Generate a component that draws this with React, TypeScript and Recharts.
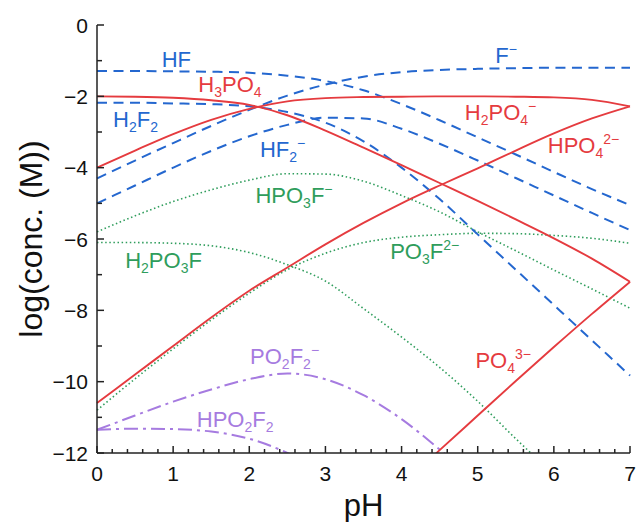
import React from 'react';
import { LineChart, Line, XAxis, YAxis, ReferenceDot } from 'recharts';

const FONT = '"Liberation Sans", Arial, Helvetica, sans-serif';
const AXIS = '#222';
const RED = '#e53b3f';
const BLUE = '#2467cf';
const GREEN = '#2f9d5c';
const PURPLE = '#a67be0';

// pH grid the curves were read at
const pH = [0, 0.5, 1, 1.5, 2, 2.5, 3, 3.5, 4, 4.5, 5, 5.5, 6, 6.5, 7];

// fluoride species, log(conc. / M)
const HF = [-1.29, -1.29, -1.3, -1.31, -1.34, -1.42, -1.57, -1.83, -2.22, -2.67, -3.15, -3.63, -4.12, -4.6, -5.05];
const F = [-4.3, -3.8, -3.31, -2.83, -2.38, -1.98, -1.67, -1.45, -1.32, -1.26, -1.23, -1.21, -1.2, -1.2, -1.2];
const H2F2 = [-2.18, -2.18, -2.2, -2.22, -2.28, -2.44, -2.74, -3.26, -4.0, -4.88, -5.87, -6.86, -7.85, -8.84, -9.83];
const HF2 = [-5.0, -4.5, -4.0, -3.53, -3.12, -2.8, -2.6, -2.62, -2.91, -3.33, -3.8, -4.29, -4.78, -5.27, -5.75];

// phosphate species
const H3PO4 = [-2.0, -2.01, -2.04, -2.11, -2.24, -2.53, -2.96, -3.44, -3.93, -4.43, -4.93, -5.45, -5.98, -6.55, -7.2];
const H2PO4 = [-4.0, -3.52, -3.06, -2.66, -2.35, -2.14, -2.05, -2.02, -2.01, -2.0, -2.0, -2.01, -2.03, -2.1, -2.28];
const HPO4 = [-10.6, -9.8, -9.0, -8.2, -7.45, -6.8, -6.15, -5.55, -5.0, -4.5, -4.02, -3.52, -3.04, -2.62, -2.28];
const PO4 = [null, null, null, null, null, null, null, null, -12.9, -11.92, -10.95, -9.98, -9.03, -8.1, -7.2];

// fluorophosphates
const H2PO3F = [-6.1, -6.1, -6.12, -6.19, -6.38, -6.72, -7.18, -7.95, -8.75, -9.6, -10.55, -11.6, -12.6, null, null];
const HPO3F = [-5.8, -5.35, -4.95, -4.62, -4.35, -4.17, -4.18, -4.38, -4.78, -5.24, -5.8, -6.33, -6.87, -7.4, -7.94];
const PO3F = [-10.8, -9.92, -9.08, -8.27, -7.52, -6.86, -6.4, -6.1, -5.95, -5.88, -5.84, -5.85, -5.9, -5.98, -6.12];
const PO2F2 = [-11.35, -10.95, -10.56, -10.22, -9.93, -9.77, -9.93, -10.38, -11.05, -11.9, -12.8, null, null, null, null];
const HPO2F2 = [-11.35, -11.32, -11.33, -11.4, -11.6, -12.0, -12.6, null, null, null, null, null, null, null, null];

const xTicks = [0, 0.2, 0.4, 0.6, 0.8, 1, 1.2, 1.4, 1.6, 1.8, 2, 2.2, 2.4, 2.6, 2.8, 3, 3.2, 3.4, 3.6, 3.8,
  4, 4.2, 4.4, 4.6, 4.8, 5, 5.2, 5.4, 5.6, 5.8, 6, 6.2, 6.4, 6.6, 6.8, 7];
const yTicks = [-12, -11, -10, -9, -8, -7, -6, -5, -4, -3, -2, -1, 0];

const rows = pH.map((p, i) => ({
  pH: p,
  HF: HF[i], F: F[i], H2F2: H2F2[i], HF2: HF2[i],
  H3PO4: H3PO4[i], H2PO4: H2PO4[i], HPO4: HPO4[i], PO4: PO4[i],
  H2PO3F: H2PO3F[i], HPO3F: HPO3F[i], PO3F: PO3F[i],
  PO2F2: PO2F2[i], HPO2F2: HPO2F2[i],
}));

const DASH = '10 6.5';
const DOT = '1.5 2.6';
const DASHDOT = '14 5 3 5';

const series = [
  { key: 'PO2F2', color: PURPLE, dash: DASHDOT, width: 2 },
  { key: 'HPO2F2', color: PURPLE, dash: DASHDOT, width: 2 },
  { key: 'H2PO3F', color: GREEN, dash: DOT, width: 1.6 },
  { key: 'HPO3F', color: GREEN, dash: DOT, width: 1.6 },
  { key: 'PO3F', color: GREEN, dash: DOT, width: 1.6 },
  { key: 'HF', color: BLUE, dash: DASH, width: 2 },
  { key: 'F', color: BLUE, dash: DASH, width: 2 },
  { key: 'H2F2', color: BLUE, dash: DASH, width: 2 },
  { key: 'HF2', color: BLUE, dash: DASH, width: 2 },
  { key: 'H3PO4', color: RED, dash: undefined, width: 1.9 },
  { key: 'H2PO4', color: RED, dash: undefined, width: 1.9 },
  { key: 'HPO4', color: RED, dash: undefined, width: 1.9 },
  { key: 'PO4', color: RED, dash: undefined, width: 1.9 },
];

// species names: _x = subscript char, ^... = superscript to the end
const labels = [
  { text: 'HF', x: 0.85, y: -1.18, color: BLUE },
  { text: 'F^−', x: 5.23, y: -1.07, color: BLUE },
  { text: 'H_3PO_4', x: 1.33, y: -1.88, color: RED },
  { text: 'H_2F_2', x: 0.21, y: -2.86, color: BLUE },
  { text: 'HF_2^−', x: 2.14, y: -3.7, color: BLUE },
  { text: 'H_2PO_4^−', x: 4.83, y: -2.66, color: RED },
  { text: 'HPO_4^2−', x: 5.92, y: -3.59, color: RED },
  { text: 'HPO_3F^−', x: 2.08, y: -4.99, color: GREEN },
  { text: 'H_2PO_3F', x: 0.37, y: -6.81, color: GREEN },
  { text: 'PO_3F^2−', x: 3.85, y: -6.56, color: GREEN },
  { text: 'PO_2F_2^−', x: 2.01, y: -9.5, color: PURPLE },
  { text: 'HPO_2F_2', x: 1.31, y: -11.27, color: PURPLE },
  { text: 'PO_4^3−', x: 4.97, y: -9.62, color: RED },
];

function parseName(s: string) {
  const parts: { t: string; m: 'n' | 'b' | 'p' }[] = [];
  let i = 0;
  while (i < s.length) {
    const c = s[i];
    if (c === '_') { parts.push({ t: s[i + 1], m: 'b' }); i += 2; }
    else if (c === '^') { parts.push({ t: s.slice(i + 1), m: 'p' }); break; }
    else { parts.push({ t: c, m: 'n' }); i += 1; }
  }
  return parts;
}

function SpeciesLabel({ cx, cy, text, color }: any) {
  const off = { n: 0, b: 5, p: -9 };
  let cur = 0;
  return (
    <text x={cx} y={cy} fill={color} fontSize={22} fontFamily={FONT}>
      {parseName(text).map((p, i) => {
        const dy = off[p.m] - cur;
        cur = off[p.m];
        return (
          <tspan key={i} dy={dy} fontSize={p.m === 'n' ? 22 : 14}>{p.t}</tspan>
        );
      })}
    </text>
  );
}

const fmt = (v: number) => (v < 0 ? '\u2212' + Math.abs(v) : String(v));

// ticks point into the plot; minor ones are shorter
function BottomTick({ x, y, payload }: any) {
  const major = Number.isInteger(payload.value);
  return (
    <g>
      <path d={`M${x},${y}V${y - (major ? 7 : 4)}`} stroke={AXIS} strokeWidth={1.5} fill="none" />
      {major && (
        <text x={x} y={y + 28} textAnchor="middle" fontSize={21} fill="#111" fontFamily={FONT}>{payload.value}</text>
      )}
    </g>
  );
}

function TopTick({ x, y, payload }: any) {
  const major = Number.isInteger(payload.value);
  return <path d={`M${x},${y}V${y + (major ? 7 : 4)}`} stroke={AXIS} strokeWidth={1.5} fill="none" />;
}

function LeftTick({ x, y, payload }: any) {
  const major = payload.value % 2 === 0;
  return (
    <g>
      <path d={`M${x},${y}H${x + (major ? 7 : 5)}`} stroke={AXIS} strokeWidth={1.5} fill="none" />
      {major && (
        <text x={x - 9} y={y + 7.5} textAnchor="end" fontSize={21} fill="#111" fontFamily={FONT}>{fmt(payload.value)}</text>
      )}
    </g>
  );
}

function RightTick({ x, y, payload }: any) {
  const major = payload.value % 2 === 0;
  return <path d={`M${x},${y}H${x - (major ? 7 : 5)}`} stroke={AXIS} strokeWidth={1.5} fill="none" />;
}

export default function App() {
  return (
    <div style={{ position: 'absolute', left: 0, top: 0, width: 638, height: 522, background: '#fff' }}>
      <LineChart width={638} height={522} data={rows} margin={{ top: 25, right: 8, bottom: 0, left: 37 }}>
        <XAxis
          dataKey="pH" type="number" domain={[0, 7]} ticks={xTicks} interval={0}
          height={69} tickSize={0} tickMargin={0}
          axisLine={{ stroke: AXIS, strokeWidth: 1.5 }} tickLine={false}
          tick={(p: any) => <BottomTick {...p} />}
          label={({ viewBox }: any) => (
            <text x={viewBox.x + viewBox.width / 2} y={viewBox.y + 63} textAnchor="middle"
              fontSize={31} fill="#111" fontFamily={FONT}>pH</text>
          )}
        />
        <XAxis
          xAxisId="top" orientation="top" dataKey="pH" type="number" domain={[0, 7]} ticks={xTicks}
          interval={0} height={0} tickSize={0} tickMargin={0}
          axisLine={{ stroke: AXIS, strokeWidth: 1.5 }} tickLine={false}
          tick={(p: any) => <TopTick {...p} />}
        />
        <YAxis
          type="number" domain={[-12, 0]} ticks={yTicks} interval={0} allowDataOverflow
          width={60} tickSize={0} tickMargin={0}
          axisLine={{ stroke: AXIS, strokeWidth: 1.5 }} tickLine={false}
          tick={(p: any) => <LeftTick {...p} />}
          label={({ viewBox }: any) => {
            const lx = viewBox.x + 5;
            const ly = viewBox.y + viewBox.height / 2;
            return (
              <text x={lx} y={ly} transform={`rotate(-90, ${lx}, ${ly})`} textAnchor="middle"
                fontSize={32} fill="#111" fontFamily={FONT}>log(conc. (M))</text>
            );
          }}
        />
        <YAxis
          yAxisId="right" orientation="right" type="number" domain={[-12, 0]} ticks={yTicks}
          interval={0} allowDataOverflow width={0} tickSize={0} tickMargin={0}
          axisLine={{ stroke: AXIS, strokeWidth: 1.5 }} tickLine={false}
          tick={(p: any) => <RightTick {...p} />}
        />
        {series.map((s) => (
          <Line
            key={s.key} dataKey={s.key} type="monotone" stroke={s.color} strokeWidth={s.width}
            strokeDasharray={s.dash} dot={false} activeDot={false} connectNulls={false}
            isAnimationActive={false}
          />
        ))}
        {labels.map((l) => (
          <ReferenceDot
            key={l.text} x={l.x} y={l.y} r={1} ifOverflow="visible"
            shape={(p: any) => <SpeciesLabel cx={p.cx} cy={p.cy} text={l.text} color={l.color} />}
          />
        ))}
      </LineChart>
    </div>
  );
}
